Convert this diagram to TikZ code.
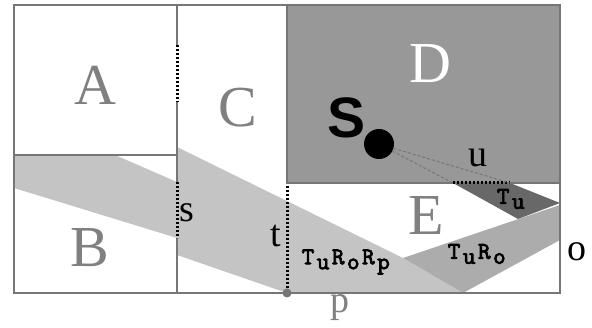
\documentclass[tikz,border=0pt]{standalone}
\usepackage{fontspec}
\setmainfont{Liberation Serif}
\newfontfamily\sfbold{Liberation Sans}
\newfontfamily\beamfont{lmmono10-regular.otf}[FakeBold=3]
\usepackage{tikz}
\usetikzlibrary{positioning}

\definecolor{wallgray}{RGB}{118,118,118}
\definecolor{lettergray}{RGB}{128,128,128}
\definecolor{dfill}{RGB}{152,152,152}
\definecolor{bandlight}{RGB}{196,196,196}
\definecolor{bandmid}{RGB}{172,172,172}
\definecolor{banddark}{RGB}{104,104,104}

% lowered letter in the beam names
\newcommand\dropchar[1]{\kern2.5pt\raisebox{-5pt}{#1}\kern2.5pt}

\begin{document}
\begin{tikzpicture}[x=1pt, y=-1pt,
  wall/.style={draw=wallgray, line width=2.8pt},
  opening/.style={draw=black, line width=3pt, dash pattern=on 2pt off 2pt},
  ray/.style={draw=wallgray, line width=1pt, dash pattern=on 3pt off 2pt},
  room/.style={font=\fontsize{58}{58}\selectfont, text=lettergray, anchor=base, inner sep=0pt},
  ptlabel/.style={font=\fontsize{38}{38}\selectfont, text=#1, anchor=base, inner sep=0pt},
  ptlabel/.default=black,
  beamlabel/.style={font=\beamfont\fontsize{24}{24}\selectfont, inner sep=0pt},
  src/.style={circle, fill=black, minimum size=30pt, inner sep=0pt},
]
\useasboundingbox (0,0) rectangle (592,328);

% Beams
\fill[bandlight] (14,155) -- (115,155) -- (177,182) -- (177,238) -- (14,188) -- cycle;
\fill[bandlight] (177,147) -- (403,258) -- (463,293) -- (287,293) -- (177,255) -- cycle;
\fill[bandmid] (403,258) -- (560,205) -- (560,240) -- (463,293) -- cycle;

% Room D
\fill[dfill] (287,5) rectangle (560,183);
\fill[banddark] (453,183) -- (510,183) -- (560,203) -- (518,219) -- cycle;

% Walls
\draw[wall] (14,5) rectangle (560,293);
\draw[wall] (287,5) -- (287,183) -- (560,183);
\draw[wall] (14,155) -- (177,155);
\draw[wall] (177,5) -- (177,45) (177,102) -- (177,182) (177,238) -- (177,293);

% Openings
\coordinate (u1) at (453,183);
\coordinate (u2) at (510,183);
\coordinate (p) at (287,293);
\draw[opening] (177,45) -- (177,102);
\draw[opening] (177,182) -- (177,238);
\draw[opening] (287,186) -- (p);
\draw[opening] (u1) -- (u2);
\fill[wallgray] (p) circle (4.5);

% Source
\node[src] (srcdot) at (379,144) {};
\draw[ray] (srcdot) -- (u1);
\draw[ray] (srcdot) -- (u2);
\node[font=\sfbold\bfseries\fontsize{57}{57}\selectfont, inner sep=0pt] (S) at (347,118) {S};

% Rooms
\node[room] (A) at (95,105) {A};
\node[room] (B) at (90,267) {B};
\node[room] (C) at (238,127) {C};
\node[room, text=white] (D) at (430,83) {D};
\node[room] (E) at (426,235) {E};

% Opening labels
\node[ptlabel] (s) at (187,222) {s};
\node[ptlabel] (t) at (276,247) {t};
\node[ptlabel] (u) at (478,167) {u};
\node[ptlabel=lettergray] (plab) at (340,313) {p};
\node[ptlabel] (o) at (577,261) {o};

% Beam labels
\node[beamlabel] (tu) at (512,199) {T\dropchar{u}};
\node[beamlabel] (turo) at (478,254) {T\dropchar{u}R\dropchar{o}};
\node[beamlabel] (turorp) at (347,262) {T\dropchar{u}R\dropchar{o}R\dropchar{p}};

\end{tikzpicture}
\end{document}
